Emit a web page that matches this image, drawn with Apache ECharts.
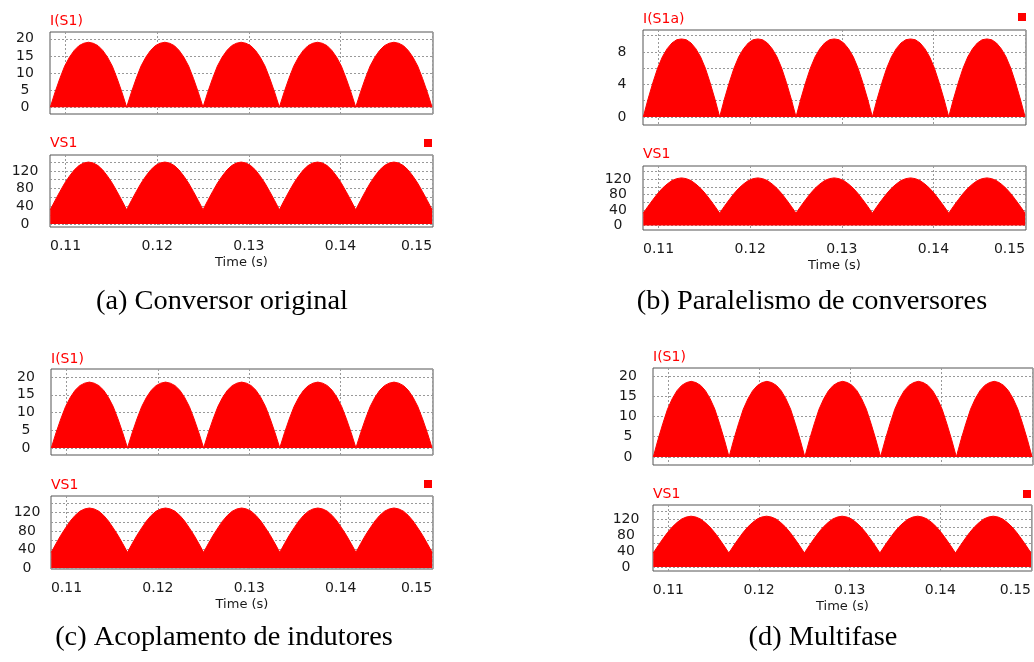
<!DOCTYPE html>
<html>
<head>
<meta charset="utf-8">
<script src="https://cdn.jsdelivr.net/npm/echarts@6/dist/echarts.min.js"></script>
<style>
  html, body { margin: 0; padding: 0; background: #fff; }
  #main { width: 1034px; height: 662px; }
</style>
</head>
<body>
<div id="main"></div>
<script>
// time axis: 0.108333 s .. 0.15 s (5 half cycles of 60 Hz), 16 samples per half cycle
var tStart = 0.1083333, tEnd = 0.15, nSteps = 80;
var times = [];
for (var k = 0; k <= nSteps; k++) times.push(tStart + k * (tEnd - tStart) / nSteps);

// (a) Conversor original
var curA = [
  0, 4.4, 8.4, 12.0, 14.6, 16.6, 18.0, 18.7, 19, 18.7, 18.0, 16.6, 14.6, 12.0, 8.4, 4.4,
  0, 4.4, 8.4, 12.0, 14.6, 16.6, 18.0, 18.7, 19, 18.7, 18.0, 16.6, 14.6, 12.0, 8.4, 4.4,
  0, 4.4, 8.4, 12.0, 14.6, 16.6, 18.0, 18.7, 19, 18.7, 18.0, 16.6, 14.6, 12.0, 8.4, 4.4,
  0, 4.4, 8.4, 12.0, 14.6, 16.6, 18.0, 18.7, 19, 18.7, 18.0, 16.6, 14.6, 12.0, 8.4, 4.4,
  0, 4.4, 8.4, 12.0, 14.6, 16.6, 18.0, 18.7, 19, 18.7, 18.0, 16.6, 14.6, 12.0, 8.4, 4.4,
  0
];
var volA = [
  32, 53, 73, 92, 108, 122, 132, 138, 140, 138, 132, 122, 108, 92, 73, 53,
  32, 53, 73, 92, 108, 122, 132, 138, 140, 138, 132, 122, 108, 92, 73, 53,
  32, 53, 73, 92, 108, 122, 132, 138, 140, 138, 132, 122, 108, 92, 73, 53,
  32, 53, 73, 92, 108, 122, 132, 138, 140, 138, 132, 122, 108, 92, 73, 53,
  32, 53, 73, 92, 108, 122, 132, 138, 140, 138, 132, 122, 108, 92, 73, 53,
  32
];
// (b) Paralelismo de conversores
var curB = [
  0, 2.2, 4.2, 6.0, 7.4, 8.4, 9.1, 9.5, 9.6, 9.5, 9.1, 8.4, 7.4, 6.0, 4.2, 2.2,
  0, 2.2, 4.2, 6.0, 7.4, 8.4, 9.1, 9.5, 9.6, 9.5, 9.1, 8.4, 7.4, 6.0, 4.2, 2.2,
  0, 2.2, 4.2, 6.0, 7.4, 8.4, 9.1, 9.5, 9.6, 9.5, 9.1, 8.4, 7.4, 6.0, 4.2, 2.2,
  0, 2.2, 4.2, 6.0, 7.4, 8.4, 9.1, 9.5, 9.6, 9.5, 9.1, 8.4, 7.4, 6.0, 4.2, 2.2,
  0, 2.2, 4.2, 6.0, 7.4, 8.4, 9.1, 9.5, 9.6, 9.5, 9.1, 8.4, 7.4, 6.0, 4.2, 2.2,
  0
];
var volB = [
  32, 50, 67, 83, 97, 108, 117, 122, 124, 122, 117, 108, 97, 83, 67, 50,
  32, 50, 67, 83, 97, 108, 117, 122, 124, 122, 117, 108, 97, 83, 67, 50,
  32, 50, 67, 83, 97, 108, 117, 122, 124, 122, 117, 108, 97, 83, 67, 50,
  32, 50, 67, 83, 97, 108, 117, 122, 124, 122, 117, 108, 97, 83, 67, 50,
  32, 50, 67, 83, 97, 108, 117, 122, 124, 122, 117, 108, 97, 83, 67, 50,
  32
];
// (c) Acoplamento de indutores
var curC = [
  0, 4.3, 8.2, 11.7, 14.3, 16.3, 17.6, 18.3, 18.6, 18.3, 17.6, 16.3, 14.3, 11.7, 8.2, 4.3,
  0, 4.3, 8.2, 11.7, 14.3, 16.3, 17.6, 18.3, 18.6, 18.3, 17.6, 16.3, 14.3, 11.7, 8.2, 4.3,
  0, 4.3, 8.2, 11.7, 14.3, 16.3, 17.6, 18.3, 18.6, 18.3, 17.6, 16.3, 14.3, 11.7, 8.2, 4.3,
  0, 4.3, 8.2, 11.7, 14.3, 16.3, 17.6, 18.3, 18.6, 18.3, 17.6, 16.3, 14.3, 11.7, 8.2, 4.3,
  0, 4.3, 8.2, 11.7, 14.3, 16.3, 17.6, 18.3, 18.6, 18.3, 17.6, 16.3, 14.3, 11.7, 8.2, 4.3,
  0
];
var volC = [
  34, 53, 71, 87, 102, 114, 123, 128, 130, 128, 123, 114, 102, 87, 71, 53,
  34, 53, 71, 87, 102, 114, 123, 128, 130, 128, 123, 114, 102, 87, 71, 53,
  34, 53, 71, 87, 102, 114, 123, 128, 130, 128, 123, 114, 102, 87, 71, 53,
  34, 53, 71, 87, 102, 114, 123, 128, 130, 128, 123, 114, 102, 87, 71, 53,
  34, 53, 71, 87, 102, 114, 123, 128, 130, 128, 123, 114, 102, 87, 71, 53,
  34
];
// (d) Multifase
var curD = [
  0, 4.3, 8.2, 11.8, 14.4, 16.4, 17.7, 18.4, 18.7, 18.4, 17.7, 16.4, 14.4, 11.8, 8.2, 4.3,
  0, 4.3, 8.2, 11.8, 14.4, 16.4, 17.7, 18.4, 18.7, 18.4, 17.7, 16.4, 14.4, 11.8, 8.2, 4.3,
  0, 4.3, 8.2, 11.8, 14.4, 16.4, 17.7, 18.4, 18.7, 18.4, 17.7, 16.4, 14.4, 11.8, 8.2, 4.3,
  0, 4.3, 8.2, 11.8, 14.4, 16.4, 17.7, 18.4, 18.7, 18.4, 17.7, 16.4, 14.4, 11.8, 8.2, 4.3,
  0, 4.3, 8.2, 11.8, 14.4, 16.4, 17.7, 18.4, 18.7, 18.4, 17.7, 16.4, 14.4, 11.8, 8.2, 4.3,
  0
];
var volD = [
  35, 53, 70, 86, 100, 111, 120, 125, 127, 125, 120, 111, 100, 86, 70, 53,
  35, 53, 70, 86, 100, 111, 120, 125, 127, 125, 120, 111, 100, 86, 70, 53,
  35, 53, 70, 86, 100, 111, 120, 125, 127, 125, 120, 111, 100, 86, 70, 53,
  35, 53, 70, 86, 100, 111, 120, 125, 127, 125, 120, 111, 100, 86, 70, 53,
  35, 53, 70, 86, 100, 111, 120, 125, 127, 125, 120, 111, 100, 86, 70, 53,
  35
];

// tick values
var xTicks = [0.11, 0.12, 0.13, 0.14, 0.15];
var curSplits = [0, 5, 10, 15, 20];
var curSplitsB = [0, 2, 4, 6, 8, 10];
var curLabelsB = [0, 4, 8];
var volSplits = [0, 20, 40, 60, 80, 100, 120, 140];
var volLabels = [0, 40, 80, 120];

var captions = ['(a) Conversor original', '(b) Paralelismo de conversores',
                '(c) Acoplamento de indutores', '(d) Multifase'];

// one entry per plot
var plots = [
  { name: 'I(S1)',  data: curA, box: [50, 32, 383, 82],  y: [-2, 22],   splits: curSplits,  labels: curSplits,  ym: 25, tt: 17,  leg: null },
  { name: 'VS1',    data: volA, box: [50, 155, 383, 72], y: [-7, 156],  splits: volSplits,  labels: volLabels,  ym: 25, tt: 139, leg: [424, 139], xl: true },
  { name: 'I(S1a)', data: curB, box: [643, 30, 383, 95], y: [-1, 10.7], splits: curSplitsB, labels: curLabelsB, ym: 21, tt: 15,  leg: [1018, 13] },
  { name: 'VS1',    data: volB, box: [643, 166, 383, 64], y: [-12, 155], splits: volSplits, labels: volLabels,  ym: 25, tt: 150, leg: null, xl: true },
  { name: 'I(S1)',  data: curC, box: [51, 369, 382, 86], y: [-2, 22.3], splits: curSplits,  labels: curSplits,  ym: 25, tt: 355, leg: null },
  { name: 'VS1',    data: volC, box: [51, 496, 382, 73], y: [-2, 156],  splits: volSplits,  labels: volLabels,  ym: 24, tt: 481, leg: [424, 480], xl: true },
  { name: 'I(S1)',  data: curD, box: [653, 368, 380, 97], y: [-2, 22],  splits: curSplits,  labels: curSplits,  ym: 25, tt: 353, leg: null },
  { name: 'VS1',    data: volD, box: [653, 505, 380, 66], y: [-10, 155], splits: volSplits, labels: volLabels,  ym: 27, tt: 490, leg: [1023, 490], xl: true }
];

var RED = '#ff0000';
var FONT = 'DejaVu Sans';
var grids = [], xAxes = [], yAxes = [], series = [], titles = [], legends = [];

plots.forEach(function (p, i) {
  var sid = p.name + ' #' + i;
  grids.push({ left: p.box[0], top: p.box[1], width: p.box[2], height: p.box[3],
    show: true, borderColor: '#555', borderWidth: 1, backgroundColor: '#fff' });
  xAxes.push({
    type: 'value', gridIndex: i, min: 0.1083, max: 0.1501,
    axisLine: { show: false },
    axisTick: { show: false, customValues: xTicks },
    splitLine: { show: true, lineStyle: { color: '#999', type: [2, 2] } },
    axisLabel: { show: !!p.xl, customValues: xTicks, margin: 12, alignMaxLabel: 'right',
      fontFamily: FONT, fontSize: 14, color: '#1a1a1a',
      formatter: function (v) { return v.toFixed(2); } },
    name: p.xl ? 'Time (s)' : '', nameLocation: 'middle', nameGap: 29,
    nameTextStyle: { fontFamily: FONT, fontSize: 13, color: '#1a1a1a' }
  });
  yAxes.push({
    type: 'value', gridIndex: i, min: p.y[0], max: p.y[1],
    axisLine: { show: false },
    axisTick: { show: false, customValues: p.splits },
    splitLine: { show: true, lineStyle: { color: '#999', type: [2, 2] } },
    axisLabel: { customValues: p.labels, margin: p.ym, align: 'center',
      fontFamily: FONT, fontSize: 14, color: '#1a1a1a' }
  });
  series.push({
    name: sid, type: 'line', xAxisIndex: i, yAxisIndex: i,
    data: times.map(function (t, j) { return [t, p.data[j]]; }),
    showSymbol: false, color: RED,
    lineStyle: { color: RED, width: 1 },
    areaStyle: { color: RED, opacity: 1 }
  });
  titles.push({ text: p.name, left: p.box[0] - 5, top: p.tt - 8,
    textStyle: { fontFamily: FONT, fontSize: 14, fontWeight: 'normal', color: RED } });
  if (p.leg) {
    legends.push({ data: [sid], left: p.leg[0], top: p.leg[1], padding: 0,
      itemWidth: 8, itemHeight: 8, icon: 'rect', selectedMode: false,
      formatter: function () { return ''; }, textStyle: { fontSize: 6 } });
  }
});

var capPos = [[222, 302], [812, 302], [224, 638], [823, 638]];
var graphics = captions.map(function (c, i) {
  return { type: 'text', x: capPos[i][0], y: capPos[i][1], scaleX: 1.05,
    style: { text: c, fill: '#000', font: '27px "Liberation Serif"',
      textAlign: 'center', textVerticalAlign: 'middle' } };
});

var chart = echarts.init(document.getElementById('main'));
chart.setOption({
  animation: false,
  title: titles,
  legend: legends,
  grid: grids,
  xAxis: xAxes,
  yAxis: yAxes,
  series: series,
  graphic: graphics
});
</script>
</body>
</html>
